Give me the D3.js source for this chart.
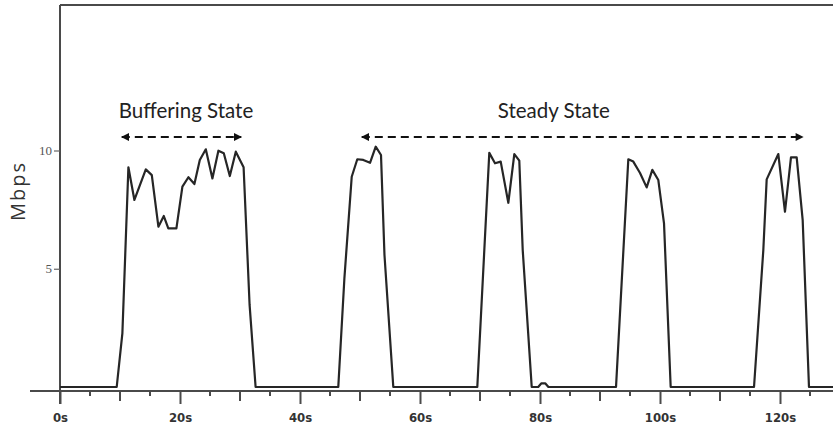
<!DOCTYPE html>
<html>
<head>
<meta charset="utf-8">
<script src="https://cdn.jsdelivr.net/npm/d3@7"></script>
<style>
  html, body { margin: 0; padding: 0; background: #fff; }
  svg { display: block; }
</style>
</head>
<body>
<div id="chart"></div>
<script>
// Throughput trace
const times = [
  0, 9.45, 10.4, 11.4, 12.4, 14.3, 15.3, 16.4, 17.3, 18.05, 19.4, 20.4, 21.4, 22.4,
  23.3, 24.3, 25.4, 26.4, 27.3, 28.3, 29.3, 30.6, 31.6, 32.6,
  46.38, 47.4, 48.62, 49.55, 50.55, 51.67, 52.62, 53.5, 54.08, 55.55,
  69.55, 71.55, 72.5, 73.45, 74.72, 75.72, 76.55, 77.12, 78.62,
  79.7, 80.2, 80.9, 81.4,
  92.67, 94.72, 95.55, 96.67, 97.78, 98.72, 99.72, 100.67, 101.78,
  115.67, 117.22, 117.78, 119.72, 120.83, 121.83, 122.78, 123.78, 124.83, 129
];
const mbps = [
  0, 0, 2.28, 9.29, 7.91, 9.2, 8.96, 6.78, 7.23, 6.71, 6.71, 8.47, 8.87, 8.58,
  9.6, 10.05, 8.82, 9.99, 9.88, 8.92, 9.95, 9.29, 3.47, 0,
  0, 4.6, 8.89, 9.63, 9.6, 9.48, 10.16, 9.81, 5.58, 0,
  0, 9.9, 9.46, 9.53, 7.79, 9.85, 9.57, 5.79, 0,
  0, 0.15, 0.15, 0,
  0, 9.63, 9.53, 9.05, 8.44, 9.18, 8.75, 6.92, 0,
  0, 5.79, 8.78, 9.85, 7.41, 9.71, 9.71, 7.06, 0, 0
];

const majorTicks = [0, 20, 40, 60, 80, 100, 120];
const mediumTicks = [10, 30, 50, 70, 90, 110];
const minorTicks = [5, 15, 25, 35, 45, 55, 65, 75, 85, 95, 105, 115, 125];
const yTicks = [5, 10];

// annotation arrows: label, label centre, start, end (seconds), level (Mbps)
const stateLabels = ['Buffering State', 'Steady State'];
const labelCentre = [21, 82.3];
const stateStart = [10.3, 50.3];
const stateEnd = [30.2, 123.8];
const arrowLevel = 10.57;
const labelLevel = 11.37;

const width = 833, height = 429;

const x = d3.scaleLinear().domain([0, 120]).range([60, 780]);
const y = d3.scaleLinear().domain([0, 10]).range([387, 150.5]);

const svg = d3.select('#chart').append('svg')
  .attr('width', width)
  .attr('height', height);

const axisColor = '#4a4a4a';
const axisY = y(0) + 4;

// frame: top border and y axis line
svg.append('line')
  .attr('x1', x(0)).attr('x2', width)
  .attr('y1', 5).attr('y2', 5)
  .attr('stroke', axisColor).attr('stroke-width', 2);

svg.append('line')
  .attr('x1', x(0)).attr('x2', x(0))
  .attr('y1', 5).attr('y2', axisY + 13)
  .attr('stroke', axisColor).attr('stroke-width', 2);

// x axis baseline
svg.append('line')
  .attr('x1', 30).attr('x2', width)
  .attr('y1', axisY).attr('y2', axisY)
  .attr('stroke', axisColor).attr('stroke-width', 2.2);

// data line
const line = d3.line()
  .x((d, i) => x(times[i]))
  .y(d => y(d));

svg.append('path')
  .datum(mbps)
  .attr('d', line)
  .attr('fill', 'none')
  .attr('stroke', '#262626')
  .attr('stroke-width', 2.2)
  .attr('stroke-linejoin', 'round');

// x axis ticks and labels
const xAxis = d3.axisBottom(x)
  .tickValues(majorTicks)
  .tickSize(13)
  .tickPadding(9)
  .tickFormat(d => d + 's');

const gx = svg.append('g')
  .attr('transform', `translate(0,${axisY})`)
  .call(xAxis);
gx.select('.domain').remove();
gx.selectAll('.tick line').attr('stroke', axisColor).attr('stroke-width', 2);
gx.selectAll('.tick text')
  .attr('fill', '#333')
  .style('font-family', '"DejaVu Sans Condensed", "DejaVu Sans", sans-serif')
  .style('font-weight', 'bold')
  .style('font-size', '13px');

svg.append('g').selectAll('line')
  .data(mediumTicks)
  .join('line')
  .attr('x1', d => x(d)).attr('x2', d => x(d))
  .attr('y1', axisY).attr('y2', axisY + 10)
  .attr('stroke', axisColor).attr('stroke-width', 2);

svg.append('g').selectAll('line')
  .data(minorTicks)
  .join('line')
  .attr('x1', d => x(d)).attr('x2', d => x(d))
  .attr('y1', axisY).attr('y2', axisY + 5)
  .attr('stroke', axisColor).attr('stroke-width', 2);

// y axis ticks
const yAxis = d3.axisLeft(y)
  .tickValues(yTicks)
  .tickSize(6)
  .tickPadding(2);

const gy = svg.append('g')
  .attr('transform', `translate(${x(0)},0)`)
  .call(yAxis);
gy.select('.domain').remove();
gy.selectAll('.tick line').attr('stroke', '#666').attr('stroke-width', 1.2);
gy.selectAll('.tick text')
  .attr('fill', '#555')
  .style('font-family', '"Liberation Serif", "DejaVu Serif", serif')
  .style('font-size', '13px');

// y axis title
svg.append('text')
  .attr('transform', 'translate(25,191) rotate(-90)')
  .attr('text-anchor', 'middle')
  .attr('fill', '#333')
  .style('font-family', '"Open Sans", sans-serif')
  .style('font-size', '20px')
  .style('letter-spacing', '2px')
  .text('Mbps');

// dashed double arrows with state labels
const defs = svg.append('defs');
['start', 'end'].forEach(k => {
  defs.append('marker')
    .attr('id', 'arrow-' + k)
    .attr('viewBox', '0 0 10 10')
    .attr('refX', k === 'end' ? 9 : 1)
    .attr('refY', 5)
    .attr('markerWidth', 10)
    .attr('markerHeight', 8)
    .attr('markerUnits', 'userSpaceOnUse')
    .attr('orient', 'auto')
    .append('path')
    .attr('d', k === 'end' ? 'M0,0 L10,5 L0,10 Z' : 'M10,0 L0,5 L10,10 Z')
    .attr('fill', '#111');
});

const ann = svg.append('g');
stateLabels.forEach((label, i) => {
  ann.append('line')
    .attr('x1', x(stateStart[i])).attr('x2', x(stateEnd[i]))
    .attr('y1', y(arrowLevel)).attr('y2', y(arrowLevel))
    .attr('stroke', '#111')
    .attr('stroke-width', 2.2)
    .attr('stroke-dasharray', '8,5')
    .attr('marker-start', 'url(#arrow-start)')
    .attr('marker-end', 'url(#arrow-end)');

  ann.append('text')
    .attr('x', x(labelCentre[i]))
    .attr('y', y(labelLevel))
    .attr('text-anchor', 'middle')
    .attr('fill', '#222')
    .style('font-family', 'Lato, "Open Sans", sans-serif')
    .style('font-size', '20.5px')
    .text(label);
});
</script>
</body>
</html>
